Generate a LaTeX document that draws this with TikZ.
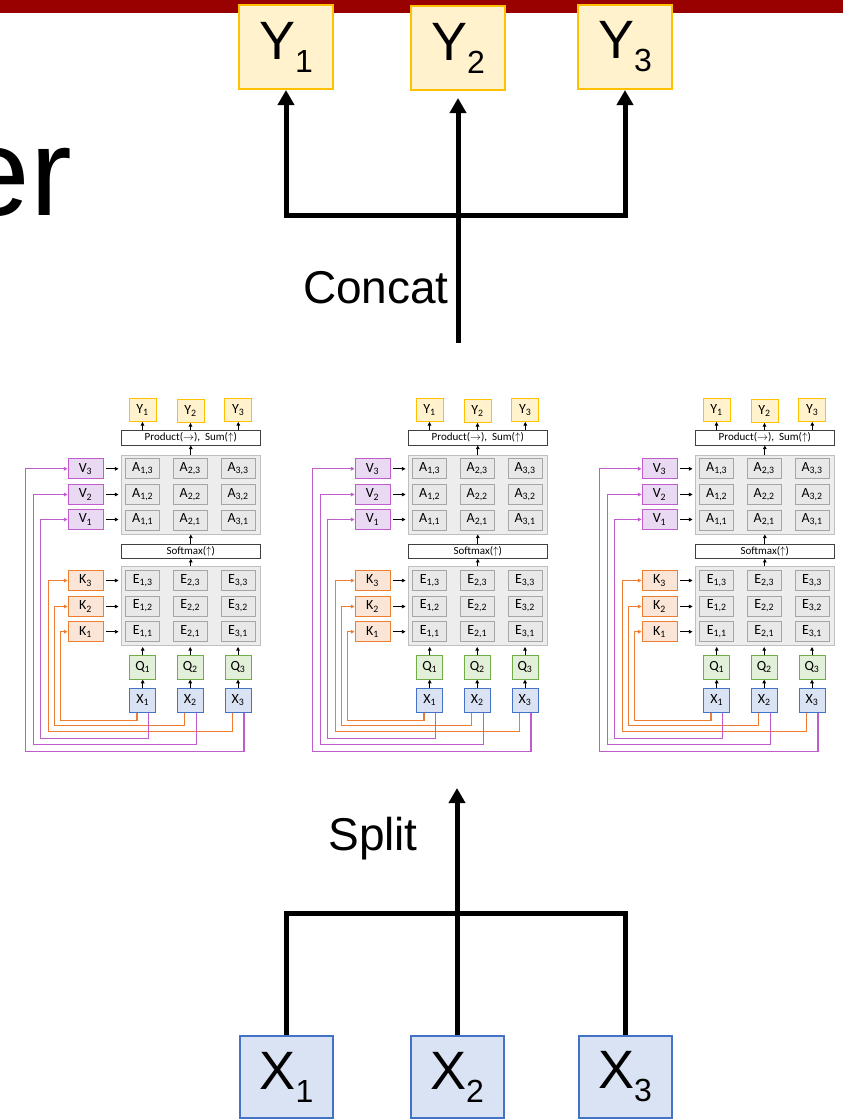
\documentclass[tikz,border=0pt]{standalone}
\usepackage{fontspec}
\setmainfont{Carlito}
\newfontfamily\bigfont{Liberation Sans}
\usetikzlibrary{arrows.meta,calc}

\definecolor{darkred}{HTML}{990000}
\definecolor{yfill}{HTML}{FFF2CC}
\definecolor{ydraw}{HTML}{FFC000}
\definecolor{xfill}{HTML}{DAE3F3}
\definecolor{xdraw}{HTML}{4472C4}
\definecolor{qfill}{HTML}{E2F0D9}
\definecolor{qdraw}{HTML}{70AD47}
\definecolor{kfill}{HTML}{FBE5D6}
\definecolor{kdraw}{HTML}{ED7D31}
\definecolor{vfill}{HTML}{EAD9F2}
\definecolor{vdraw}{HTML}{C05CCB}
\definecolor{panelfill}{HTML}{EDEDED}
\definecolor{paneldraw}{HTML}{BFBFBF}
\definecolor{cellfill}{HTML}{E8E8E8}
\definecolor{celldraw}{HTML}{A6A6A6}

\tikzset{
  smallbox/.style={draw, line width=0.9pt, inner sep=0pt, font=\fontsize{14}{14}\selectfont},
  ysmall/.style={smallbox, draw=ydraw, fill=yfill, minimum width=27pt, minimum height=23pt},
  xsmall/.style={smallbox, draw=xdraw, fill=xfill, minimum width=26pt, minimum height=24pt},
  qsmall/.style={smallbox, draw=qdraw, fill=qfill, minimum width=26pt, minimum height=24pt},
  ksmall/.style={smallbox, draw=kdraw, fill=kfill, minimum width=35pt, minimum height=20pt},
  vsmall/.style={smallbox, draw=vdraw, fill=vfill, minimum width=35pt, minimum height=20pt},
  cell/.style={smallbox, draw=celldraw, fill=cellfill, minimum width=34pt, minimum height=20pt},
  panel/.style={draw=paneldraw, fill=panelfill, line width=1pt, minimum width=139pt, inner sep=0pt},
  wbox/.style={draw=black!75, fill=white, line width=1pt, minimum width=139pt, inner sep=0pt, font=\fontsize{11}{11}\selectfont},
  sarr/.style={line width=0.8pt, -{Triangle[length=3.6pt,width=3.6pt]}},
  kc/.style={draw=kdraw, line width=1.2pt, -{Triangle[length=3.6pt,width=3.6pt]}},
  vc/.style={draw=vdraw, line width=1.2pt, -{Triangle[length=3.6pt,width=3.6pt]}},
  bigy/.style={draw=ydraw, fill=yfill, line width=2pt, minimum width=94pt, minimum height=84pt, inner sep=0pt},
  bigx/.style={draw=xdraw, fill=xfill, line width=2pt, minimum width=93pt, minimum height=82pt, inner sep=0pt},
  bigline/.style={line width=5pt},
  bigarr/.style={line width=5pt, -{Triangle[length=15pt,width=16pt]}},
  bigtxt/.style={inner sep=0pt, font=\bigfont\fontsize{46}{50}\selectfont},
}

\newcommand{\bigsub}[2]{{\bigfont\fontsize{54}{60}\selectfont #1\raisebox{-13pt}{\fontsize{32}{36}\selectfont #2}}}

\begin{document}
\begin{tikzpicture}[x=1pt,y=-1pt]
\useasboundingbox (0,0) rectangle (843,1120);
\clip (0,0) rectangle (843,1120);
\fill[white] (0,0) rectangle (843,1120);
\fill[darkred] (0,0) rectangle (843,13);

% title fragment (cut at the left edge, as in the reference)
\node[anchor=base east, inner sep=0pt, font=\bigfont\fontsize{125}{125}\selectfont] (er) at (72,215) {er};

% big outputs
\node[bigy] (Y1) at (286,47) {\bigsub{Y}{1}};
\node[bigy] (Y2) at (458,48) {\bigsub{Y}{2}};
\node[bigy] (Y3) at (625,47) {\bigsub{Y}{3}};

% concat
\coordinate (cj) at (458,215);
\coordinate (cb) at (458,343);
\draw[bigline] (cb) -- (cj);
\draw[bigarr] (cj) -- ([yshift=-7pt]Y2.south);
\draw[bigarr] (cj) -| (Y1.south);
\draw[bigarr] (cj) -| (Y3.south);
\node[bigtxt, anchor=base east] (concat) at (449,303) {Concat};

% big inputs
\node[bigx] (X1) at (286.5,1077) {\bigsub{X}{1}};
\node[bigx] (X2) at (457,1077) {\bigsub{X}{2}};
\node[bigx] (X3) at (625,1077) {\bigsub{X}{3}};

% split
\coordinate (sj) at (457,913);
\coordinate (st) at (457,788);
\draw[bigline] (X1.north) |- (sj) -| (X3.north);
\draw[bigline] (X2.north) -- (sj);
\draw[bigarr] (sj) -- (st);
\node[bigtxt, anchor=base east] (split) at (418,850) {Split};

% three attention heads
\foreach \bk/\dx in {a/-287,b/0,c/287}{
\begin{scope}[xshift=\dx pt]
  \node[ysmall] (\bk Y1) at (429.5,410) {Y\textsubscript{1}};
  \node[ysmall] (\bk Y2) at (477.5,411) {Y\textsubscript{2}};
  \node[ysmall] (\bk Y3) at (525.3,410) {Y\textsubscript{3}};
  \node[wbox, minimum height=15pt] (\bk P) at (477.8,437.5) {Product($\rightarrow$),\ \ Sum($\uparrow$)};
  \node[panel, minimum height=78.3pt] (\bk AP) at (477.8,494.85) {};
  \node[wbox, minimum height=14.3pt] (\bk S) at (477.8,551.2) {Softmax($\uparrow$)};
  \node[panel, minimum height=79pt] (\bk EP) at (477.8,605.5) {};
  \foreach \col/\cx in {1/429.7,2/477.2,3/525.0}{
    \foreach \row/\cy in {1/520,2/494.5,3/468.8}{
      \node[cell] (\bk A\col\row) at (\cx,\cy) {A\textsubscript{\col,\row}};
    }
    \foreach \row/\cy in {1/631.7,2/606,3/580.3}{
      \node[cell] (\bk E\col\row) at (\cx,\cy) {E\textsubscript{\col,\row}};
    }
    \node[qsmall] (\bk Q\col) at (\cx,667.2) {Q\textsubscript{\col}};
    \node[xsmall] (\bk X\col) at (\cx,700.3) {X\textsubscript{\col}};
  }
  \foreach \row/\cy in {1/519.5,2/494.5,3/468.8}{
    \node[vsmall] (\bk V\row) at (372.5,\cy) {V\textsubscript{\row}};
  }
  \foreach \row/\cy in {1/631.7,2/606.5,3/580.5}{
    \node[ksmall] (\bk K\row) at (372.5,\cy) {K\textsubscript{\row}};
  }
  % black arrows
  \foreach \n in {1,2,3}{
    \draw[sarr] (\bk P.north -| \bk Y\n) -- (\bk Y\n.south);
    \draw[sarr] (\bk Q\n.north) -- ([yshift=-1.5pt]\bk EP.south -| \bk Q\n);
    \draw[sarr] (\bk X\n.north) -- (\bk Q\n.south);
    \draw[sarr] ([xshift=2.5pt]\bk V\n.east) -- ([xshift=-2.3pt]\bk AP.west |- \bk V\n.east);
    \draw[sarr] ([xshift=2.5pt]\bk K\n.east) -- ([xshift=-2.3pt]\bk EP.west |- \bk K\n.east);
  }
  \draw[sarr] (\bk AP.north) -- (\bk P.south);
  \draw[sarr] (\bk S.north) -- (\bk AP.south);
  \draw[sarr] (\bk EP.north) -- (\bk S.south);
  % key connectors
  \draw[kc] ([xshift=-5.7pt]\bk X1.south) -- ++(0,7.7) -| (347.7,0 |- \bk K1.west) -- (\bk K1.west);
  \draw[kc] ([xshift=-5.7pt]\bk X2.south) -- ++(0,12.7) -| (341.7,0 |- \bk K2.west) -- (\bk K2.west);
  \draw[kc] ([xshift=-5.7pt]\bk X3.south) -- ++(0,18.4) -| (335.7,0 |- \bk K3.west) -- (\bk K3.west);
  % value connectors
  \draw[vc] ([xshift=6pt]\bk X1.south) -- ++(0,25.4) -| (327.7,0 |- \bk V1.west) -- (\bk V1.west);
  \draw[vc] ([xshift=6pt]\bk X2.south) -- ++(0,31.7) -| (320.7,0 |- \bk V2.west) -- (\bk V2.west);
  \draw[vc] ([xshift=6pt]\bk X3.south) -- ++(0,38.4) -| (312.3,0 |- \bk V3.west) -- (\bk V3.west);
\end{scope}
}
\end{tikzpicture}
\end{document}
